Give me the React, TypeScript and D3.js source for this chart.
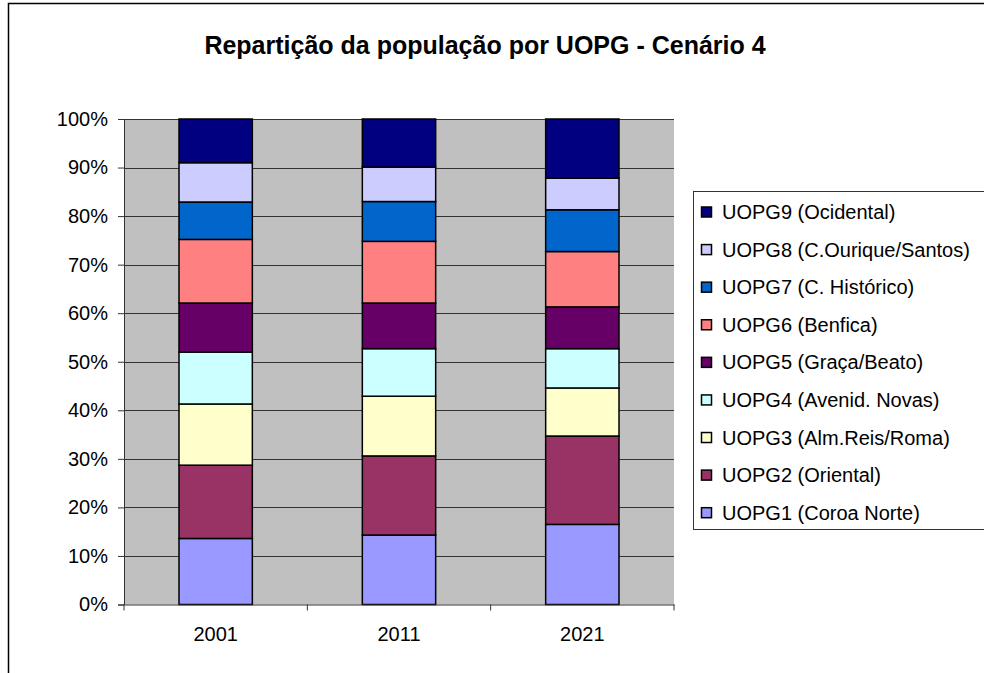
import * as d3 from "d3";
import { useEffect, useRef } from "react";

const years = ["2001", "2011", "2021"];
const seriesNames = [
  "UOPG1 (Coroa Norte)",
  "UOPG2 (Oriental)",
  "UOPG3 (Alm.Reis/Roma)",
  "UOPG4 (Avenid. Novas)",
  "UOPG5 (Graça/Beato)",
  "UOPG6 (Benfica)",
  "UOPG7 (C. Histórico)",
  "UOPG8 (C.Ourique/Santos)",
  "UOPG9 (Ocidental)",
];
const colors = [
  "#9999FF",
  "#993366",
  "#FFFFCC",
  "#CCFFFF",
  "#660066",
  "#FF8080",
  "#0066CC",
  "#CCCCFF",
  "#000080",
];
// share of population (%) per UOPG, one array per year
const v2001 = [13.6, 15.1, 12.6, 10.7, 10.1, 13.1, 7.7, 8.1, 9.0];
const v2011 = [14.3, 16.3, 12.3, 9.8, 9.4, 12.7, 8.2, 7.1, 9.9];
const v2021 = [16.5, 18.2, 9.9, 8.1, 8.6, 11.4, 8.6, 6.5, 12.2];
const yTicks = [0, 10, 20, 30, 40, 50, 60, 70, 80, 90, 100];

const App = () => {
  const ref = useRef<SVGSVGElement | null>(null);

  useEffect(() => {
    const svg = d3.select(ref.current);
    svg.selectAll("*").remove();

    const width = 984,
      height = 673;
    const plot = { left: 124, right: 674, top: 119, bottom: 604.5 };
    const font = "'Liberation Sans', Arial, sans-serif";

    const rows = [v2001, v2011, v2021].map((vals, i) => {
      const row: any = { year: years[i] };
      seriesNames.forEach((s, j) => (row[s] = vals[j]));
      return row;
    });
    const stacked = d3.stack<any>().keys(seriesNames).offset(d3.stackOffsetExpand)(rows);

    const x = d3.scaleBand().domain(years).range([plot.left, plot.right]).paddingInner(0.6).paddingOuter(0.3);
    const y = d3.scaleLinear().domain([0, 1]).range([plot.bottom, plot.top]);

    svg.attr("width", width).attr("height", height);

    // chart frame
    svg
      .append("rect")
      .attr("x", 8.5)
      .attr("y", 3.5)
      .attr("width", 990)
      .attr("height", 700)
      .attr("fill", "white")
      .attr("stroke", "black")
      .attr("stroke-width", 1.5);

    svg
      .append("text")
      .attr("x", 485)
      .attr("y", 54)
      .attr("text-anchor", "middle")
      .attr("font-family", font)
      .attr("font-weight", "bold")
      .attr("font-size", 25)
      .text("Repartição da população por UOPG - Cenário 4");

    svg
      .append("rect")
      .attr("x", plot.left)
      .attr("y", plot.top)
      .attr("width", plot.right - plot.left)
      .attr("height", plot.bottom - plot.top)
      .attr("fill", "#C0C0C0");

    svg
      .append("g")
      .selectAll("line")
      .data(yTicks.slice(1))
      .join("line")
      .attr("x1", plot.left)
      .attr("x2", plot.right)
      .attr("y1", (d) => Math.round(y(d / 100)) + 0.5)
      .attr("y2", (d) => Math.round(y(d / 100)) + 0.5)
      .attr("stroke", "#333")
      .attr("stroke-width", 1);

    svg
      .append("g")
      .selectAll("g")
      .data(stacked)
      .join("g")
      .attr("fill", (_d, i) => colors[i])
      .selectAll("rect")
      .data((d) => d)
      .join("rect")
      .attr("x", (d: any) => x(d.data.year)!)
      .attr("width", x.bandwidth())
      .attr("y", (d) => y(d[1]))
      .attr("height", (d) => y(d[0]) - y(d[1]))
      .attr("stroke", "black")
      .attr("stroke-width", 1.5);

    // y axis
    const yAxis = svg
      .append("g")
      .attr("transform", `translate(${plot.left},0)`)
      .call(
        d3
          .axisLeft(y)
          .tickValues(yTicks.map((t) => t / 100))
          .tickFormat((d) => `${Math.round(+d * 100)}%`)
          .tickSize(6)
          .tickPadding(10)
      );
    yAxis.select(".domain").attr("stroke", "#333");
    yAxis.selectAll("line").attr("stroke", "#333");
    yAxis.selectAll("text").attr("font-family", font).attr("font-size", 20).attr("fill", "black");

    // x axis
    const xAxis = svg
      .append("g")
      .attr("transform", `translate(0,${plot.bottom})`)
      .call(d3.axisBottom(x).tickSize(0).tickPadding(22));
    xAxis.select(".domain").attr("stroke", "#333");
    xAxis.selectAll("text").attr("font-family", font).attr("font-size", 20).attr("fill", "black");
    const step = (plot.right - plot.left) / years.length;
    svg
      .append("g")
      .selectAll("line")
      .data(d3.range(years.length + 1))
      .join("line")
      .attr("x1", (i) => plot.left + i * step)
      .attr("x2", (i) => plot.left + i * step)
      .attr("y1", plot.bottom)
      .attr("y2", plot.bottom + 6)
      .attr("stroke", "#333");

    // legend
    const lg = svg.append("g");
    lg.append("rect")
      .attr("x", 693.5)
      .attr("y", 191.5)
      .attr("width", 320)
      .attr("height", 338)
      .attr("fill", "white")
      .attr("stroke", "#333");
    const items = seriesNames.map((s, i) => ({ s, c: colors[i] })).reverse();
    const ly = d3.scaleLinear().domain([0, items.length - 1]).range([212, 512.7]);
    const li = lg
      .selectAll("g.item")
      .data(items)
      .join("g")
      .attr("class", "item")
      .attr("transform", (_d, i) => `translate(0,${ly(i)})`);
    li.append("rect")
      .attr("x", 701.5)
      .attr("y", -5)
      .attr("width", 10)
      .attr("height", 10)
      .attr("fill", (d) => d.c)
      .attr("stroke", "black")
      .attr("stroke-width", 1.5);
    li.append("text")
      .attr("x", 722)
      .attr("y", 7)
      .attr("font-family", font)
      .attr("font-size", 20)
      .text((d) => d.s);
  }, []);

  return (
    <div style={{ position: "absolute", left: 0, top: 0 }}>
      <svg ref={ref} style={{ display: "block" }}></svg>
    </div>
  );
};

export default App;
